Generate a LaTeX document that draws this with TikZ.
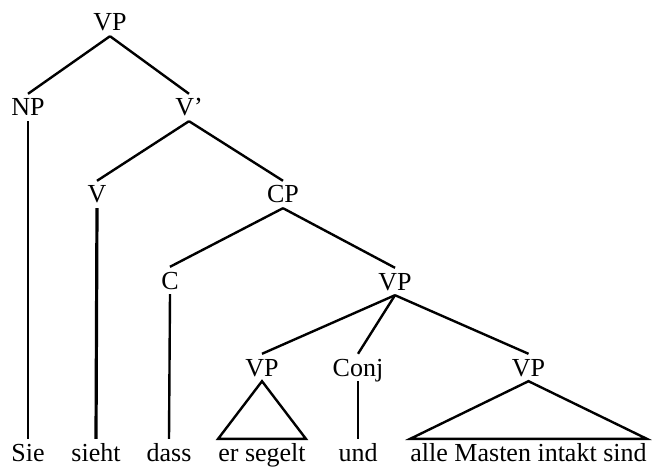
\documentclass[tikz,border=0pt]{standalone}
\usepackage{fontspec}
\setmainfont{Liberation Serif}
\begin{document}
\begin{tikzpicture}[x=1pt,y=-1pt,
  lbl/.style={anchor=base,inner xsep=0pt,inner ysep=5pt,text height=17pt,text depth=0pt,
    font=\fontsize{26}{30}\selectfont},
  branch/.style={line width=2.4pt,line cap=butt}]
\useasboundingbox (0,0) rectangle (652,470);
% categories
\node[lbl] (vp)   at (110,31)  {VP};
\node[lbl] (np)   at (28,116)  {NP};
\node[lbl] (vbar) at (189,116) {V'};
\node[lbl] (v)    at (97,203)  {V};
\node[lbl] (cp)   at (283,203) {CP};
\node[lbl] (c)    at (170,289) {C};
\node[lbl] (vpc)  at (395,290) {VP};
\node[lbl] (vpl)  at (262,376) {VP};
\node[lbl] (conj) at (358,376) {Conj};
\node[lbl] (vpr)  at (528.5,376) {VP};
% words
\node[lbl] (sie)   at (28,461)  {Sie};
\node[lbl] (sieht) at (96,461)  {sieht};
\node[lbl] (dass)  at (169,461) {dass};
\node[lbl] (er)    at (262,461) {er segelt};
\node[lbl] (und)   at (358,461) {und};
\node[lbl] (alle)  at (528.5,461) {alle Masten intakt sind};
% branches
\draw[branch] (vp.south) -- (np.north);
\draw[branch] (vp.south) -- (vbar.north);
\draw[branch] (vbar.south) -- (v.north);
\draw[branch] (vbar.south) -- (cp.north);
\draw[branch] (cp.south) -- (c.north);
\draw[branch] (cp.south) -- (vpc.north);
\draw[branch] (vpc.south) -- (vpl.north);
\draw[branch] (vpc.south) -- (conj.north);
\draw[branch] (vpc.south) -- (vpr.north);
\draw[branch] (np.south) -- (sie.north);
\draw[branch,line width=3.2pt] (v.south) -- (sieht.north);
\draw[branch] (c.south) -- (dass.north);
\draw[branch] (conj.south) -- (und.north);
% triangles over unanalysed phrases
\draw[branch,line join=miter] (vpl.south) -- (er.north west) -- (er.north east) -- cycle;
\draw[branch,line join=miter] (vpr.south) -- (alle.north west) -- (alle.north east) -- cycle;
\end{tikzpicture}
\end{document}
